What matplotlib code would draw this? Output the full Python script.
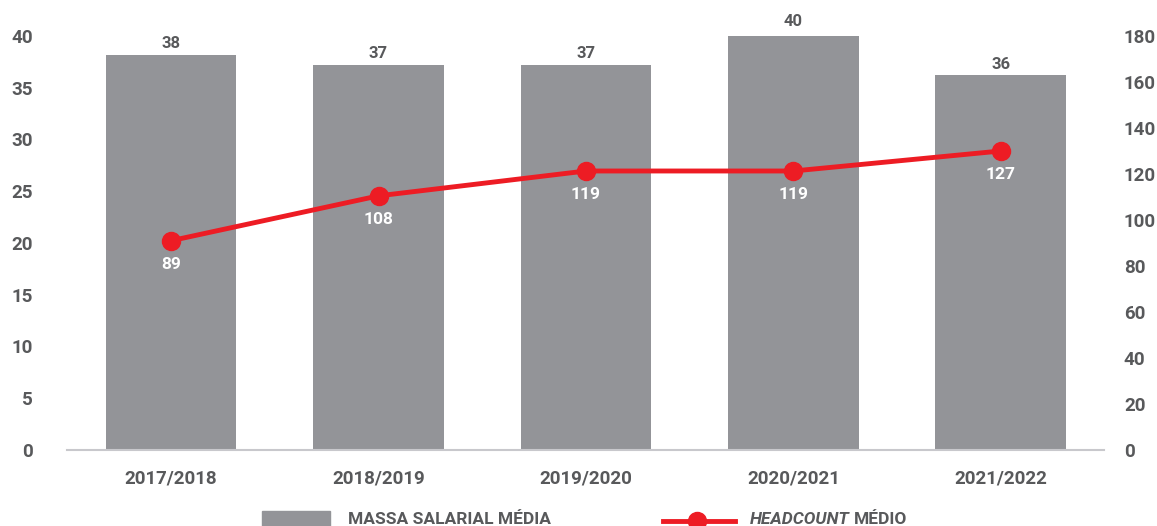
import numpy as np
import matplotlib.pyplot as plt
from matplotlib.patches import Rectangle
from matplotlib.lines import Line2D

periods = ["2017/2018", "2018/2019", "2019/2020", "2020/2021", "2021/2022"]
massa = [38.2, 37.2, 37.2, 40.3, 36.2]
massa_labels = ["38", "37", "37", "40", "36"]
headcount = [91, 110.5, 121.3, 121.3, 130]
headcount_labels = ["89", "108", "119", "119", "127"]

GRAY = "#939498"
RED = "#ED1C24"
TXT = "#58595B"

plt.rcParams["font.family"] = ["Roboto", "DejaVu Sans"]

fig = plt.figure(figsize=(11.57, 5.26), dpi=100)
ax = fig.add_axes([0.0583, 0.1445, 0.8963, 0.7871])
x = np.arange(len(periods))

ax.bar(x, massa, width=0.63, color=GRAY, zorder=2)
for xi, v, lab in zip(x, massa, massa_labels):
    ax.text(xi, v + 0.35, lab, ha="center", va="bottom", fontsize=12,
            fontweight="bold", color=TXT)

ax.set_xlim(-0.5, 4.5)
ax.set_ylim(0, 40)
ax.set_yticks(range(0, 41, 5))
ax.set_xticks(x)
ax.set_xticklabels(periods)
for s in ["top", "left", "right"]:
    ax.spines[s].set_visible(False)
ax.spines["bottom"].set_color("#C8C8CC")
ax.spines["bottom"].set_linewidth(1.5)
ax.tick_params(axis="both", length=0, labelsize=13.5, labelcolor=TXT)
ax.tick_params(axis="y", pad=25)
ax.tick_params(axis="x", pad=14)
for t in ax.get_xticklabels() + ax.get_yticklabels():
    t.set_fontweight("bold")

ax2 = ax.twinx()
ax2.set_ylim(0, 180)
ax2.set_yticks(range(0, 181, 20))
for s in ["top", "left", "right", "bottom"]:
    ax2.spines[s].set_visible(False)
ax2.tick_params(axis="y", length=0, labelsize=13.5, labelcolor=TXT, pad=14)
for t in ax2.get_yticklabels():
    t.set_fontweight("bold")
ax2.plot(x, headcount, color=RED, lw=3.5, marker="o", markersize=13, zorder=3)
for xi, v, lab in zip(x, headcount, headcount_labels):
    ax2.text(xi, v - 7, lab, ha="center", va="top", fontsize=12.5,
             fontweight="bold", color="white")

# legend (manual, at the bottom edge)
ly = 7 / 526
fig.patches.append(Rectangle((262 / 1157, 0), 68 / 1157, 15 / 526,
                             transform=fig.transFigure, color=GRAY))
fig.text(348 / 1157, ly, "MASSA SALARIAL MÉDIA", fontsize=12.5,
         fontweight="bold", color=TXT, va="center", ha="left")
fig.add_artist(Line2D([663 / 1157, 735 / 1157], [5 / 526, 5 / 526],
                      transform=fig.transFigure, color=RED, lw=3.5))
fig.add_artist(Line2D([697 / 1157], [5 / 526], transform=fig.transFigure,
                      color=RED, marker="o", markersize=13))
t1 = fig.text(750 / 1157, ly, "HEADCOUNT", fontsize=12.5, fontweight="bold",
              fontstyle="italic", color=TXT, va="center", ha="left")
fig.canvas.draw()
bb = t1.get_window_extent()
fig.text((bb.x1 + 4) / 1157, ly, "MÉDIO", fontsize=12.5, fontweight="bold",
         color=TXT, va="center", ha="left")

fig.savefig("out.png", dpi=100)
